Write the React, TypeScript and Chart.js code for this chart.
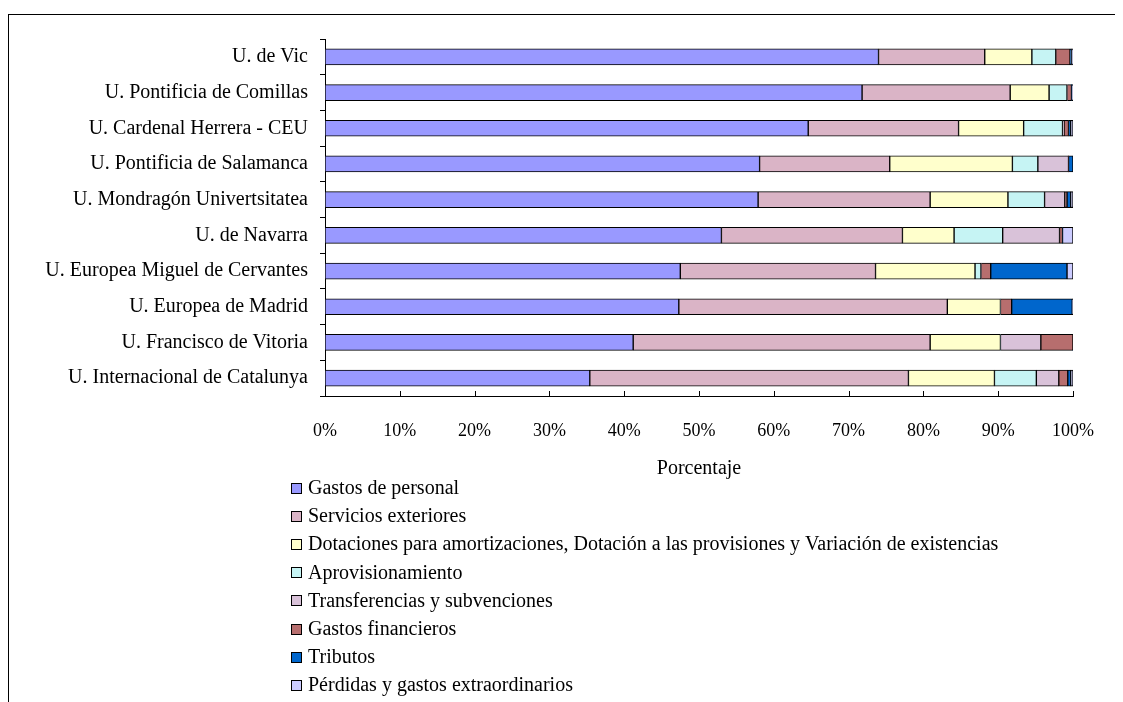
import React, { useEffect, useRef } from "react";
import { Chart, registerables } from "chart.js";

Chart.register(...registerables);

const categories = [
  "U. de Vic",
  "U. Pontificia de Comillas",
  "U. Cardenal Herrera - CEU",
  "U. Pontificia de Salamanca",
  "U. Mondragón Univertsitatea",
  "U. de Navarra",
  "U. Europea Miguel de Cervantes",
  "U. Europea de Madrid",
  "U. Francisco de Vitoria",
  "U. Internacional de Catalunya",
];

const seriesNames = [
  "Gastos de personal",
  "Servicios exteriores",
  "Dotaciones para amortizaciones, Dotación a las provisiones y Variación de existencias",
  "Aprovisionamiento",
  "Transferencias y subvenciones",
  "Gastos financieros",
  "Tributos",
  "Pérdidas y gastos extraordinarios",
];

const gastosPersonal = [74.0, 71.8, 64.6, 58.1, 57.9, 53.0, 47.5, 47.3, 41.2, 35.4];
const serviciosExteriores = [14.2, 19.8, 20.1, 17.4, 23.0, 24.2, 26.1, 35.9, 39.7, 42.6];
const dotaciones = [6.3, 5.2, 8.7, 16.4, 10.4, 6.9, 13.3, 7.1, 9.4, 11.5];
const aprovisionamiento = [3.2, 2.4, 5.2, 3.4, 4.9, 6.5, 0.8, 0.0, 0.0, 5.6];
const transferencias = [0.0, 0.0, 0.2, 4.1, 2.7, 7.6, 0.0, 0.0, 5.4, 3.0];
const gastosFinancieros = [1.9, 0.6, 0.6, 0.0, 0.3, 0.4, 1.3, 1.5, 4.3, 1.2];
const tributos = [0.2, 0.0, 0.3, 0.6, 0.5, 0.0, 10.2, 8.1, 0.0, 0.4];
const perdidas = [0.2, 0.2, 0.3, 0.0, 0.3, 1.4, 0.8, 0.1, 0.0, 0.3];

const xTicks = [0, 10, 20, 30, 40, 50, 60, 70, 80, 90, 100];

const seriesValues = [
  gastosPersonal,
  serviciosExteriores,
  dotaciones,
  aprovisionamiento,
  transferencias,
  gastosFinancieros,
  tributos,
  perdidas,
];

const seriesColors = [
  "#9999FF",
  "#DAB4C6",
  "#FFFFCC",
  "#C6F4F4",
  "#D9C2D9",
  "#B76E6E",
  "#0066CC",
  "#CCCCFF",
];

const FONT = '"Liberation Serif", "Times New Roman", serif';

const insideTicksPlugin = {
  id: "insideTicks",
  afterDraw(chart: any) {
    const ctx = chart.ctx;
    const xs = chart.scales.x;
    const bottom = chart.chartArea.bottom;
    ctx.save();
    ctx.strokeStyle = "#000";
    ctx.lineWidth = 1;
    xTicks.forEach((v) => {
      const x = Math.round(xs.getPixelForValue(v)) + 0.5;
      ctx.beginPath();
      ctx.moveTo(x, bottom);
      ctx.lineTo(x, bottom - 5);
      ctx.stroke();
    });
    ctx.restore();
  },
};

const legendPlugin = {
  id: "customLegend",
  afterDraw(chart: any) {
    const ctx = chart.ctx;
    ctx.save();
    ctx.font = `20px ${FONT}`;
    ctx.textBaseline = "middle";
    ctx.textAlign = "left";
    const startY = 473;
    const step = 28.1;
    seriesNames.forEach((name, i) => {
      const cy = startY + step * i;
      const bx = 282;
      const by = Math.round(cy - 5);
      ctx.fillStyle = seriesColors[i];
      ctx.fillRect(bx, by, 10, 10);
      ctx.strokeStyle = "#000";
      ctx.lineWidth = 1;
      ctx.strokeRect(bx + 0.5, by + 0.5, 10, 10);
      ctx.fillStyle = "#000";
      ctx.fillText(name, 299, cy + 1);
    });
    ctx.restore();
  },
};

export default function App() {
  const canvasRef = useRef<HTMLCanvasElement | null>(null);

  useEffect(() => {
    document.body.style.overflow = "hidden";
    const canvas = canvasRef.current;
    if (!canvas) return;
    const chart = new Chart(canvas, {
      type: "bar",
      data: {
        labels: categories,
        datasets: seriesNames.map((name, i) => ({
          label: name,
          data: seriesValues[i],
          backgroundColor: seriesColors[i],
          borderColor: "#000000",
          borderWidth: (c: any) => (c.raw > 0 ? 1 : 0),
          borderSkipped: false,
          barThickness: 16,
        })),
      },
      options: {
        indexAxis: "y",
        responsive: false,
        animation: false,
        events: [],
        layout: { padding: { top: 21, right: 50, bottom: 221, left: 0 } },
        plugins: {
          legend: { display: false },
          tooltip: { enabled: false },
          title: { display: false },
        },
        scales: {
          x: {
            stacked: true,
            min: 0,
            max: 100,
            afterFit: (s: any) => {
              s.height = 85;
            },
            afterBuildTicks: (s: any) => {
              s.ticks = xTicks.map((v) => ({ value: v }));
            },
            ticks: {
              callback: (v: any) => `${v}%`,
              font: { family: FONT, size: 18 },
              color: "#000",
              padding: 24,
              maxRotation: 0,
            },
            grid: { display: false, drawTicks: false },
            border: { display: true, color: "#000", width: 1 },
            title: {
              display: true,
              text: "Porcentaje",
              font: { family: FONT, size: 20 },
              color: "#000",
              padding: 0,
            },
          },
          y: {
            stacked: true,
            afterFit: (s: any) => {
              s.width = 316;
            },
            ticks: {
              font: { family: FONT, size: 20 },
              color: "#000",
              padding: 12,
            },
            grid: {
              display: true,
              drawOnChartArea: false,
              drawTicks: true,
              tickLength: 5,
              color: "#000",
              offset: true,
            },
            border: { display: true, color: "#000", width: 1 },
          },
        },
      } as any,
      plugins: [insideTicksPlugin, legendPlugin],
    });
    return () => chart.destroy();
  }, []);

  return (
    <div
      style={{
        marginTop: 6,
        borderTop: "1px solid #000",
        borderLeft: "1px solid #000",
        width: 1200,
        height: 687,
        overflow: "hidden",
        background: "#fff",
      }}
    >
      <canvas ref={canvasRef} width={1114} height={687} style={{ display: "block" }} />
    </div>
  );
}
